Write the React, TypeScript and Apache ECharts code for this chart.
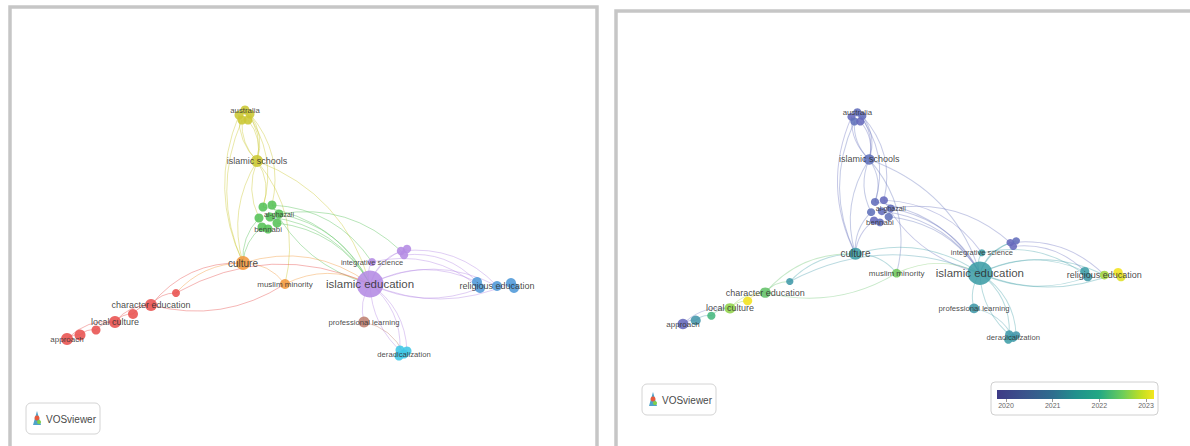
import React, { useEffect, useRef } from "react";
import * as echarts from "echarts";

// Node: [id, label, mapX, mapY, occurrences, cluster, avgPubYear]
const NODES: [string, string, number, number, number, number, number][] = [
  ["au0", "australia", 245, 110, 1.5, 0, 2020.2],
  ["au1", "", 239, 115, 1.5, 0, 2020.1],
  ["au2", "", 250, 114, 1.5, 0, 2020.2],
  ["au3", "", 242, 120, 1.5, 0, 2020.3],
  ["au4", "", 248, 120, 1.5, 0, 2020.1],
  ["is", "islamic schools", 257, 161, 3, 0, 2020.3],
  ["g0", "al-ghazali", 279, 214, 1.5, 1, 2020.2],
  ["g1", "", 263, 207, 1.5, 1, 2020.2],
  ["g2", "", 272, 205, 1.5, 1, 2020.1],
  ["g3", "", 259, 218, 1.5, 1, 2020.3],
  ["g4", "", 270, 217, 1.5, 1, 2020.2],
  ["g5", "", 262, 227, 1.5, 1, 2020.1],
  ["g6", "bennabi", 268, 229, 1.5, 1, 2020.2],
  ["g7", "", 277, 223, 1.5, 1, 2020.3],
  ["cu", "culture", 243, 263, 4, 2, 2021.4],
  ["mm", "muslim minority", 285, 284, 2, 2, 2022.3],
  ["ie", "islamic education", 370, 284, 10.5, 3, 2021.4],
  ["is2", "integrative science", 372, 262, 1, 3, 2021.4],
  ["p1", "", 401, 251, 1.2, 3, 2020.1],
  ["p2", "", 407, 249, 1.2, 3, 2020.2],
  ["p3", "", 404, 255, 1.2, 3, 2020.1],
  ["r0", "approach", 67, 339, 3, 4, 2020.1],
  ["r1", "", 80, 335, 2.5, 4, 2021.2],
  ["r2", "", 96, 330, 1.5, 4, 2022.0],
  ["lc", "local culture", 115, 322, 3, 4, 2022.5],
  ["r4", "", 133, 314, 2, 4, 2023.0],
  ["ce", "character education", 151, 305, 3, 4, 2022.2],
  ["r6", "", 176, 293, 1, 4, 2021.3],
  ["b0", "", 477, 282, 2, 5, 2021.4],
  ["b1", "", 480, 288, 2, 5, 2021.3],
  ["re", "religious education", 497, 286, 2, 5, 2022.6],
  ["b3", "", 511, 283, 2, 5, 2023.0],
  ["b4", "", 514, 288, 2, 5, 2022.9],
  ["pl", "professional learning", 364, 322, 2.5, 6, 2021.3],
  ["d0", "deradicalization", 404, 354, 1.5, 7, 2021.3],
  ["d1", "", 400, 350, 1.5, 7, 2021.3],
  ["d2", "", 407, 351, 1.5, 7, 2021.2],
  ["d3", "", 399, 356, 1.5, 7, 2021.4],
];

const LINKS: [string, string][] = [
  ["au0", "is"], ["au1", "is"], ["au2", "is"], ["au3", "is"], ["au4", "is"],
  ["au1", "cu"], ["au3", "cu"], ["au0", "g1"], ["au2", "g2"],
  ["is", "cu"], ["is", "g1"], ["is", "g3"], ["is", "ie"], ["is", "mm"],
  ["g1", "ie"], ["g2", "ie"], ["g0", "ie"], ["g4", "ie"], ["g7", "ie"],
  ["g2", "is2"], ["g0", "p1"], ["g3", "cu"], ["g5", "cu"],
  ["ce", "cu"], ["cu", "ie"], ["cu", "mm"], ["cu", "r6"],
  ["mm", "ie"], ["ce", "mm"], ["r6", "ie"],
  ["r0", "r1"], ["r1", "r2"], ["r2", "lc"], ["lc", "r4"], ["r4", "ce"],
  ["ce", "r6"], ["r0", "lc"], ["lc", "ce"],
  ["ie", "is2"], ["ie", "p1"], ["ie", "p2"], ["ie", "b0"], ["ie", "b1"],
  ["ie", "re"], ["ie", "b3"], ["p1", "re"], ["p3", "b0"],
  ["ie", "pl"], ["ie", "d0"], ["ie", "d1"], ["ie", "d2"], ["pl", "d0"],
  ["is2", "b1"],
];

// ---- styles ----
const CLUSTER_COLORS = [
  "#cbc733", "#55c157", "#f39a3f", "#b48be4",
  "#e8514f", "#4f98d8", "#bf8172", "#3fc7e6",
];
// links drawn bending the other way (to the right of source -> target)
const BEND_RIGHT = new Set([
  "au1-cu", "au3-cu", "is-cu", "g3-cu", "g5-cu", "ce-mm", "ie-b1", "ie-b3",
  "ie-d0", "ie-pl", "au1-is", "au3-is", "g2-ie", "is-g3", "cu-r6",
]);

const YEAR_TICKS = [2020, 2021, 2022, 2023];
const YEAR_COLORS = ["#6765bd", "#5b79b8", "#4a8fb0", "#3aa0a4", "#46b87e", "#8fd24a", "#f3e31c"];
const BAR_STOPS: [number, string][] = [
  [0, "#3e3a86"], [0.18, "#3a548c"], [0.36, "#2e6e8e"], [0.5, "#21908d"],
  [0.65, "#22a884"], [0.8, "#6ccd5a"], [0.92, "#c2df23"], [1, "#f4e61e"],
];

const LABEL_SIZE: Record<string, number> = {
  ie: 11.5, cu: 10, is: 9, ce: 9, lc: 9, re: 9, r0: 8, mm: 8,
  is2: 7.5, pl: 7.7, d0: 7.7, au0: 7.8, g0: 7, g6: 7.8,
};

const FONT = "'Liberation Sans', Arial, sans-serif";

function yearColor(y: number) {
  const t = (y - YEAR_TICKS[0]) / (YEAR_TICKS[YEAR_TICKS.length - 1] - YEAR_TICKS[0]);
  return echarts.color.lerp(Math.max(0, Math.min(1, t)), YEAR_COLORS) as string;
}

function buildSeries(panel: number, tx: (x: number) => number, ty: (y: number) => number) {
  const xs = NODES.map((n) => n[2]);
  const ys = NODES.map((n) => n[3]);
  const minX = Math.min(...xs), maxX = Math.max(...xs);
  const minY = Math.min(...ys), maxY = Math.max(...ys);
  const sizeK = panel === 0 ? 1 : 0.92;
  const colorOf: Record<string, string> = {};
  NODES.forEach((n) => {
    colorOf[n[0]] = panel === 0 ? CLUSTER_COLORS[n[5]] : yearColor(n[6]);
  });
  const data = NODES.map((n) => ({
    name: n[0],
    x: n[2],
    y: n[3],
    value: n[6],
    symbolSize: (6 + 2 * n[4]) * sizeK,
    itemStyle: { color: colorOf[n[0]] },
    label: {
      show: n[1] !== "",
      formatter: n[1],
      fontSize: LABEL_SIZE[n[0]] || 8,
    },
  }));
  const links = LINKS.map(([s, t]) => ({
    source: s,
    target: t,
    lineStyle: {
      color: colorOf[s],
      curveness: BEND_RIGHT.has(s + "-" + t) ? -0.22 : 0.25,
    },
  }));
  return {
    type: "graph",
    layout: "none",
    left: tx(minX),
    top: ty(minY),
    width: tx(maxX) - tx(minX),
    height: ty(maxY) - ty(minY),
    roam: false,
    silent: true,
    z: 5,
    data,
    links,
    itemStyle: { opacity: 0.88 },
    lineStyle: { width: 1, opacity: panel === 0 ? 0.42 : 0.36 },
    label: { show: true, position: "inside", color: "#2e2e2e", fontFamily: FONT },
    emphasis: { disabled: true },
  };
}

export default function App() {
  const ref = useRef<HTMLDivElement>(null);
  useEffect(() => {
    if (!ref.current) return;
    const chart = echarts.init(ref.current, undefined, { renderer: "svg" });
    const left = buildSeries(0, (x) => x, (y) => y);
    const right = buildSeries(1, (x) => 617.3 + 0.98 * x, (y) => 10.5 + 0.925 * y);
    const logo = (x: number, y: number) => [
      { type: "rect", shape: { x, y, width: 74, height: 31, r: 5 }, style: { fill: "#fff", stroke: "#d4d4d4", lineWidth: 1 }, z: 1 },
      { type: "polygon", shape: { points: [[x + 7, y + 22], [x + 11, y + 8], [x + 15, y + 22]] }, style: { fill: "#4fa3c8" }, z: 2 },
      { type: "circle", shape: { cx: x + 11, cy: y + 15, r: 2.5 }, style: { fill: "#e85a3c" }, z: 3 },
      { type: "circle", shape: { cx: x + 13, cy: y + 19, r: 2 }, style: { fill: "#7fcf4a" }, z: 3 },
      { type: "text", x: x + 20, y: y + 16, style: { text: "VOSviewer", fontSize: 10, fill: "#4a4a4a", fontFamily: FONT, verticalAlign: "middle" }, z: 2 },
    ];
    chart.setOption({
      animation: false,
      backgroundColor: "#fff",
      graphic: [
        { type: "rect", shape: { x: 10, y: 7, width: 587, height: 450 }, style: { fill: "#fff", stroke: "#c6c6c6", lineWidth: 3.5 }, z: 0 },
        { type: "rect", shape: { x: 616, y: 11, width: 590, height: 450 }, style: { fill: "#fff", stroke: "#c6c6c6", lineWidth: 3.5 }, z: 0 },
        ...logo(26, 403),
        ...logo(642, 384),
        { type: "rect", shape: { x: 991, y: 382, width: 167, height: 33, r: 4 }, style: { fill: "#fff", stroke: "#d0d0d0", lineWidth: 1 }, z: 1 },
        {
          type: "rect",
          shape: { x: 997, y: 390, width: 157, height: 9 },
          style: {
            fill: new echarts.graphic.LinearGradient(0, 0, 1, 0, BAR_STOPS.map(([o, c]) => ({ offset: o, color: c }))),
          },
          z: 2,
        },
      ],
      grid: { left: 1006, top: 390, width: 140, height: 9, show: false },
      xAxis: {
        type: "value",
        min: YEAR_TICKS[0],
        max: YEAR_TICKS[YEAR_TICKS.length - 1],
        interval: 1,
        z: 10,
        axisLine: { show: false },
        splitLine: { show: false },
        axisTick: { show: true, length: 3, inside: false, lineStyle: { color: "#999" } },
        axisLabel: { fontSize: 7, color: "#666", margin: 3, fontFamily: FONT, formatter: (v: number) => String(v) },
      },
      yAxis: { type: "value", show: false, min: 0, max: 1 },
      series: [left, right, { type: "scatter", data: [], xAxisIndex: 0, yAxisIndex: 0, silent: true }],
    });
    return () => chart.dispose();
  }, []);
  return <div ref={ref} style={{ position: "fixed", left: 0, top: 0, width: 1190, height: 446 }} />;
}
